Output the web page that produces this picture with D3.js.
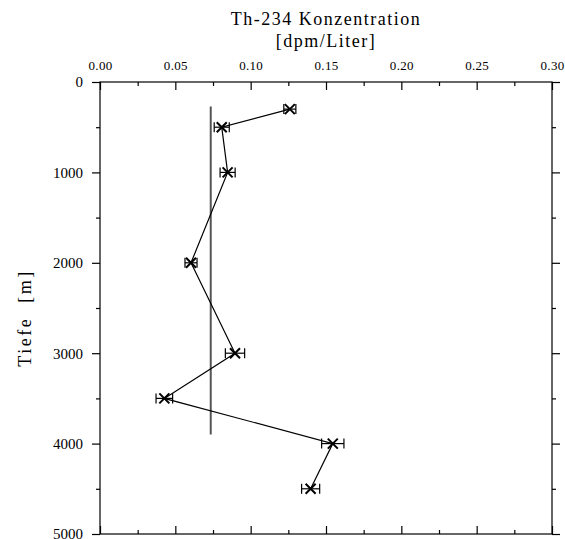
<!DOCTYPE html>
<html><head><meta charset="utf-8">
<script src="https://cdn.jsdelivr.net/npm/d3@7"></script>
<style>
body{margin:0;background:#fff;}
svg text{font-family:"Liberation Serif","Times New Roman",serif;fill:#000;}
</style></head>
<body><svg id="c" width="565" height="539"></svg>
<script>
const depths = [300, 500, 1000, 2000, 3000, 3500, 4000, 4500];
const conc   = [0.126, 0.0808, 0.0847, 0.0604, 0.0896, 0.0427, 0.1545, 0.1398];
const errs   = [0.004, 0.005, 0.005, 0.004, 0.0064, 0.0055, 0.0074, 0.006];
const refValue = 0.0735;
const refDepths = [270, 3900];
const xTicks = [0, 0.05, 0.10, 0.15, 0.20, 0.25, 0.30];
const yTicks = [0, 1000, 2000, 3000, 4000, 5000];

const svg = d3.select("#c");
const L = 100, R = 552, T = 82, B = 534;
const x = d3.scaleLinear().domain([0, 0.30]).range([L, R]);
const y = d3.scaleLinear().domain([0, 5000]).range([T, B]);

const xMinor = d3.range(0.025, 0.30, 0.05);
const yMinor = d3.range(500, 5000, 1000);

// Top axis: labels outside, ticks inward
const topAx = svg.append("g").attr("transform", `translate(0,${T})`)
  .call(d3.axisTop(x).tickValues(xTicks).tickFormat(d3.format(".2f")).tickSizeInner(-8).tickSizeOuter(0).tickPadding(12));
topAx.select(".domain").remove();
topAx.selectAll("text").attr("font-size", 13).style("letter-spacing", "0.3px");
svg.append("g").attr("transform", `translate(0,${T})`)
  .call(d3.axisTop(x).tickValues(xMinor).tickFormat("").tickSizeInner(-4).tickSizeOuter(0))
  .select(".domain").remove();

// Bottom axis ticks inward
svg.append("g").attr("transform", `translate(0,${B})`)
  .call(d3.axisBottom(x).tickValues(xTicks).tickFormat("").tickSizeInner(-8).tickSizeOuter(0))
  .select(".domain").remove();
svg.append("g").attr("transform", `translate(0,${B})`)
  .call(d3.axisBottom(x).tickValues(xMinor).tickFormat("").tickSizeInner(-4).tickSizeOuter(0))
  .select(".domain").remove();

// Left axis: ticks outward
const leftAx = svg.append("g").attr("transform", `translate(${L},0)`)
  .call(d3.axisLeft(y).tickValues(yTicks).tickFormat(d3.format("d")).tickSizeInner(8).tickSizeOuter(0).tickPadding(9));
leftAx.select(".domain").remove();
leftAx.selectAll("text").attr("font-size", 15);
svg.append("g").attr("transform", `translate(${L},0)`)
  .call(d3.axisLeft(y).tickValues(yMinor).tickFormat("").tickSizeInner(4).tickSizeOuter(0))
  .select(".domain").remove();

// Right axis: ticks outward
svg.append("g").attr("transform", `translate(${R},0)`)
  .call(d3.axisRight(y).tickValues(yTicks).tickFormat("").tickSizeInner(8).tickSizeOuter(0))
  .select(".domain").remove();
svg.append("g").attr("transform", `translate(${R},0)`)
  .call(d3.axisRight(y).tickValues(yMinor).tickFormat("").tickSizeInner(4).tickSizeOuter(0))
  .select(".domain").remove();

svg.selectAll(".tick line").attr("stroke", "#000").attr("stroke-width", 1.2);

// frame
svg.append("rect").attr("x", L).attr("y", T).attr("width", R - L).attr("height", B - T)
  .attr("fill", "none").attr("stroke", "#000").attr("stroke-width", 1.2);

// reference vertical line
svg.append("line")
  .attr("x1", x(refValue)).attr("x2", x(refValue))
  .attr("y1", y(refDepths[0])).attr("y2", y(refDepths[1]))
  .attr("stroke", "#555").attr("stroke-width", 2);

const data = depths.map((d, i) => ({d, c: conc[i], e: errs[i]}));

// connecting line
svg.append("path").datum(data)
  .attr("d", d3.line().x(p => x(p.c)).y(p => y(p.d)))
  .attr("fill", "none").attr("stroke", "#000").attr("stroke-width", 1.2);

// error bars
const eb = svg.append("g").attr("stroke", "#000").attr("stroke-width", 1.2);
data.forEach(p => {
  const yy = y(p.d), x0 = x(p.c - p.e), x1 = x(p.c + p.e);
  eb.append("line").attr("x1", x0).attr("x2", x1).attr("y1", yy).attr("y2", yy);
  eb.append("line").attr("x1", x0).attr("x2", x0).attr("y1", yy - 5).attr("y2", yy + 5);
  eb.append("line").attr("x1", x1).attr("x2", x1).attr("y1", yy - 5).attr("y2", yy + 5);
});

// X markers
const mk = svg.append("g").attr("stroke", "#000").attr("stroke-width", 2);
data.forEach(p => {
  const cx = x(p.c), cy = y(p.d), s = 5;
  mk.append("path").attr("d", `M${cx - s},${cy - s}L${cx + s},${cy + s}M${cx - s},${cy + s}L${cx + s},${cy - s}`);
});

// titles
const cxT = (L + R) / 2;
svg.append("text").attr("x", cxT).attr("y", 25).attr("text-anchor", "middle")
  .attr("font-size", 18).style("letter-spacing", "1.5px").text("Th-234 Konzentration");
svg.append("text").attr("x", cxT).attr("y", 47).attr("text-anchor", "middle")
  .attr("font-size", 18).style("letter-spacing", "1.5px").text("[dpm/Liter]");
svg.append("text").attr("transform", `translate(31,${(T + B) / 2 + 10}) rotate(-90)`)
  .attr("text-anchor", "middle").attr("font-size", 18).style("letter-spacing", "2.5px")
  .attr("xml:space", "preserve").style("white-space", "pre").text("Tiefe  [m]");
</script></body></html>
